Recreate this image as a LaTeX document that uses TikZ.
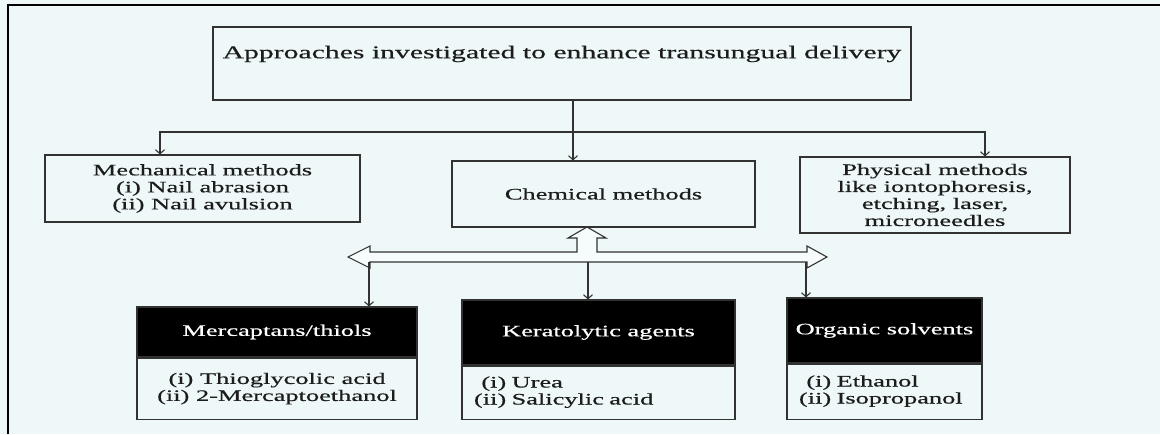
\documentclass[tikz,border=0pt]{standalone}
\usepackage{fontspec}
\setmainfont{Liberation Serif}
\newfontfamily\rf[FakeStretch=1.65,FakeBold=0.5]{Liberation Serif}
\usetikzlibrary{arrows.meta}
\definecolor{bg}{RGB}{238,248,248}
\definecolor{ln}{RGB}{50,50,50}
\definecolor{tx}{RGB}{28,28,28}
\begin{document}
\begin{tikzpicture}[x=1pt,y=-1pt,
  box/.style={draw=ln, line width=1.1pt, fill=bg, text=tx, align=center, inner sep=0pt,
    font=\rf\fontsize{16}{17}\selectfont},
  hdr/.style={box, fill=black, draw=ln, text=white},
  lst/.style={box, align=left, inner xsep=12pt},
  arr/.style={draw=ln, line width=1.1pt, -{Straight Barb[length=4pt,width=9pt]}},
  hollow/.style={draw=ln, line width=1.1pt, fill=bg!50!white, line join=miter}]
\fill[bg] (0,0) rectangle (1160,434);
\useasboundingbox (0,0) rectangle (1160,434);
\draw[line width=2.5pt, black] (8,434) -- (8,5) -- (1160,5);

% first level
\node[box, minimum width=698pt, minimum height=73pt, font=\rf\fontsize{18}{18}\selectfont] (top) at (562,63.5)
  {Approaches investigated to enhance transungual delivery\\[5pt]};
\node[box, minimum width=315pt, minimum height=67pt] (mech) at (202.5,188.5)
  {Mechanical methods\\(i) Nail abrasion\\(ii) Nail avulsion};
\node[box, minimum width=303pt, minimum height=66pt] (chem) at (603.5,194) {Chemical methods};
\node[box, minimum width=270pt, minimum height=76pt] (phys) at (935,195)
  {Physical methods\\like iontophoresis,\\etching, laser,\\microneedles};

% connectors from top
\coordinate (bT) at (573,132);
\coordinate (bL) at (160,132);
\coordinate (bR) at (985,132);
\draw[arr] (top.south -| bT) -- (chem.north -| bT);
\draw[arr] (bT) -| (mech.north -| bL);
\draw[arr] (bT) -| (phys.north -| bR);

% second level
\node[hdr, minimum width=280pt, minimum height=50pt] (mercH) at (277,332) {Mercaptans/thiols};
\node[box, minimum width=280pt, minimum height=61pt, anchor=north] (mercB) at (mercH.south)
  {(i) Thioglycolic acid\\(ii) 2-Mercaptoethanol};
\node[hdr, minimum width=273pt, minimum height=65pt] (keraH) at (598.5,332.5) {Keratolytic agents};
\node[lst, minimum width=273pt, minimum height=53pt, anchor=north, text width=249pt] (keraB) at (keraH.south)
  {\begin{tabular}{@{}r@{ }l@{}}(i)&Urea\\(ii)&Salicylic acid\end{tabular}};
\node[hdr, minimum width=195pt, minimum height=65pt] (orgH) at (884.5,330.5) {Organic solvents};
\node[lst, minimum width=195pt, minimum height=55pt, anchor=north, text width=171pt] (orgB) at (orgH.south)
  {\begin{tabular}{@{}r@{ }l@{}}(i)&Ethanol\\(ii)&Isopropanol\end{tabular}};

% hollow double arrow with upward branch
\coordinate (hl) at (348,257);
\coordinate (hr) at (827,257);
\coordinate (hu) at (587,227);
\draw[hollow] (hl) -- (370,246) -- (370,252) -- (577,252) -- (577,238) -- (568,238)
  -- (hu) -- (606,238) -- (597,238) -- (597,252) -- (807,252) -- (807,246) -- (hr)
  -- (807,268) -- (807,262) -- (370,262) -- (370,268) -- cycle;

\coordinate (h1) at (369,262);
\coordinate (h2) at (588,262);
\coordinate (h3) at (806,262);
\draw[arr] (h1) -- (mercH.north -| h1);
\draw[arr] (h2) -- (keraH.north -| h2);
\draw[arr] (h3) -- (orgH.north -| h3);
\end{tikzpicture}
\end{document}
